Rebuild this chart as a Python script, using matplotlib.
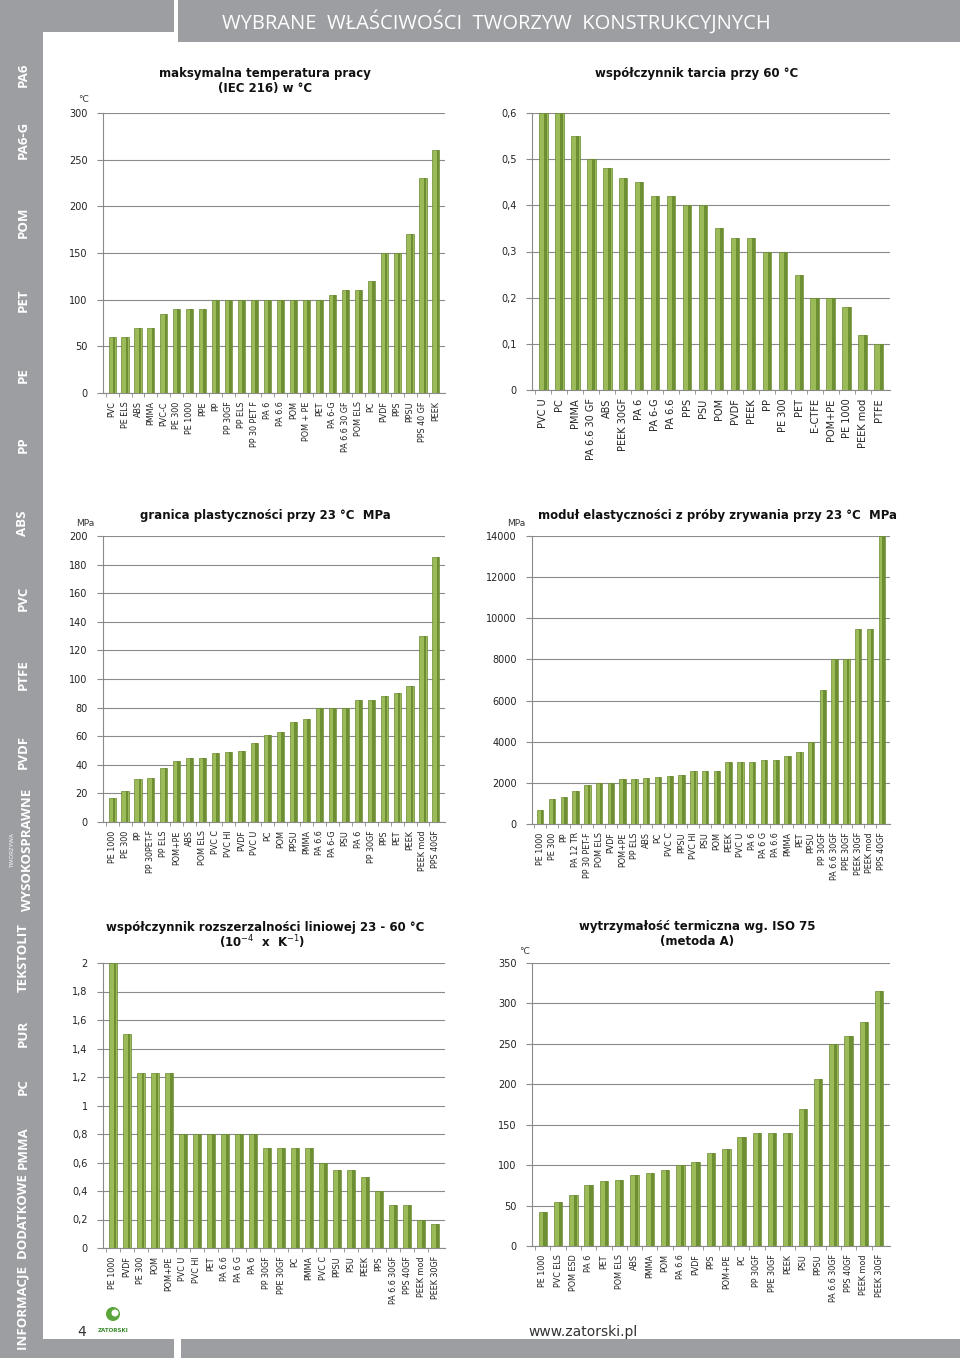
import matplotlib.pyplot as plt
import matplotlib.patches as patches

W, H = 960, 1358
GRAY = '#9d9ea2'
GREEN = '#9bbb59'
GREEN_DARK = '#6e8e34'
GRID = '#8a8a8a'
NARROW = ['Liberation Sans Narrow', 'DejaVu Sans']

# maksymalna temperatura pracy
temp_cats = ['PVC', 'PE ELS', 'ABS', 'PMMA', 'PVC-C', 'PE 300', 'PE 1000', 'PPE', 'PP',
             'PP 30GF', 'PP ELS', 'PP 30 PET F', 'PA 6', 'PA 6.6', 'POM', 'POM + PE', 'PET',
             'PA 6-G', 'PA 6.6 30 GF', 'POM ELS', 'PC', 'PVDF', 'PPS', 'PPSU', 'PPS 40 GF', 'PEEK']
temp_vals = [60, 60, 70, 70, 85, 90, 90, 90, 100, 100, 100, 100, 100, 100, 100, 100, 100,
             105, 110, 110, 120, 150, 150, 170, 230, 260]

# współczynnik tarcia
fric_cats = ['PVC U', 'PC', 'PMMA', 'PA 6.6 30 GF', 'ABS', 'PEEK 30GF', 'PA 6', 'PA 6-G',
             'PA 6.6', 'PPS', 'PSU', 'POM', 'PVDF', 'PEEK', 'PP', 'PE 300', 'PET', 'E-CTFE',
             'POM+PE', 'PE 1000', 'PEEK mod', 'PTFE']
fric_vals = [0.6, 0.6, 0.55, 0.5, 0.48, 0.46, 0.45, 0.42, 0.42, 0.4, 0.4, 0.35, 0.33, 0.33,
             0.3, 0.3, 0.25, 0.2, 0.2, 0.18, 0.12, 0.1]

# granica plastyczności
yield_cats = ['PE 1000', 'PE 300', 'PP', 'PP 30PET-F', 'PP ELS', 'POM+PE', 'ABS', 'POM ELS',
              'PVC C', 'PVC HI', 'PVDF', 'PVC U', 'PC', 'POM', 'PPSU', 'PMMA', 'PA 6.6', 'PA 6-G',
              'PSU', 'PA 6', 'PP 30GF', 'PPS', 'PET', 'PEEK', 'PEEK mod', 'PPS 40GF']
yield_vals = [17, 22, 30, 31, 38, 43, 45, 45, 48, 49, 50, 55, 61, 63, 70, 72, 80, 80, 80, 85,
              85, 88, 90, 95, 130, 185]

# moduł elastyczności
mod_cats = ['PE 1000', 'PE 300', 'PP', 'PA 12 TR', 'PP 30 PET-F', 'POM ELS', 'PVDF', 'POM+PE',
            'PP ELS', 'ABS', 'PC', 'PVC C', 'PPSU', 'PVC HI', 'PSU', 'POM', 'PEEK', 'PVC U',
            'PA 6', 'PA 6 G', 'PA 6.6', 'PMMA', 'PET', 'PPSU', 'PP 30GF', 'PA 6.6 30GF',
            'PPE 30GF', 'PEEK 30GF', 'PEEK mod', 'PPS 40GF']
mod_vals = [700, 1200, 1300, 1600, 1900, 2000, 2000, 2200, 2200, 2250, 2300, 2350, 2400, 2600,
            2600, 2600, 3000, 3000, 3000, 3100, 3100, 3300, 3500, 4000, 6500, 8000, 8000, 9500,
            9500, 14000]

# współczynnik rozszerzalności liniowej
exp_cats = ['PE 1000', 'PVDF', 'PE 300', 'POM', 'POM+PE', 'PVC U', 'PVC HI', 'PET', 'PA 6.6',
            'PA 6 G', 'PA 6', 'PP 30GF', 'PPE 30GF', 'PC', 'PMMA', 'PVC C', 'PPSU', 'PSU', 'PEEK',
            'PPS', 'PA 6.6 30GF', 'PPS 40GF', 'PEEK mod', 'PEEK 30GF']
exp_vals = [2.0, 1.5, 1.23, 1.23, 1.23, 0.8, 0.8, 0.8, 0.8, 0.8, 0.8, 0.7, 0.7, 0.7, 0.7, 0.6,
            0.55, 0.55, 0.5, 0.4, 0.3, 0.3, 0.2, 0.17]

# wytrzymałość termiczna ISO 75
hdt_cats = ['PE 1000', 'PVC ELS', 'POM ESD', 'PA 6', 'PET', 'POM ELS', 'ABS', 'PMMA', 'POM',
            'PA 6.6', 'PVDF', 'PPS', 'POM+PE', 'PC', 'PP 30GF', 'PPE 30GF', 'PEEK', 'PSU', 'PPSU',
            'PA 6.6 30GF', 'PPS 40GF', 'PEEK mod', 'PEEK 30GF']
hdt_vals = [42, 54, 63, 75, 80, 82, 88, 90, 94, 100, 104, 115, 120, 135, 140, 140, 140, 170,
            207, 250, 260, 277, 315]

sidebar = [('PA6', 75), ('PA6-G', 140), ('POM', 222), ('PET', 300), ('PE', 375), ('PP', 445),
           ('ABS', 523), ('PVC', 598), ('PTFE', 675), ('PVDF', 752), ('TEKSTOLIT', 958),
           ('PUR', 1033), ('PC', 1087), ('PMMA', 1148), ('INFORMACJE  DODATKOWE', 1262)]

fig = plt.figure(figsize=(9.6, 13.58), dpi=100)
fig.patch.set_facecolor('white')


def px_axes(x0, y0, x1, y1):
    return fig.add_axes([x0 / W, 1 - y1 / H, (x1 - x0) / W, (y1 - y0) / H])


def ftext(x, y, s, **kw):
    fig.text(x / W, 1 - y / H, s, **kw)


def fmt_num(v):
    s = ('%g' % v)
    return s.replace('.', ',')


def bar_chart(box, cats, vals, ymax, step, lab_size, lab_font, width=0.55):
    ax = px_axes(*box)
    xs = list(range(len(cats)))
    ax.bar(xs, vals, width=width, color=GREEN, edgecolor='#6b8a35', linewidth=0.5, zorder=3)
    # darker right side of each column for the 3D look
    ax.bar([x + width * 0.28 for x in xs], vals, width=width * 0.38, color=GREEN_DARK,
           linewidth=0, zorder=4)
    ticks = [i * step for i in range(int(round(ymax / step)) + 1)]
    ax.set_ylim(0, ymax)
    ax.set_yticks(ticks)
    ax.set_yticklabels([fmt_num(t) for t in ticks], fontsize=7, color='#222222')
    ax.set_xlim(-0.7, len(cats) - 0.3)
    ax.set_xticks(xs)
    ax.set_xticklabels(cats, rotation=90, fontsize=lab_size, family=lab_font, color='#222222')
    ax.set_xticks([x + 0.5 for x in xs[:-1]] + [-0.5], minor=True)
    ax.tick_params(axis='x', which='major', length=0, pad=6)
    ax.tick_params(axis='x', which='minor', length=3, color=GRID)
    ax.tick_params(axis='y', length=4, color=GRID, pad=7)
    ax.yaxis.grid(True, color=GRID, linewidth=0.8, zorder=0)
    for s in ['top', 'right']:
        ax.spines[s].set_visible(False)
    for s in ['left', 'bottom']:
        ax.spines[s].set_color(GRID)
        ax.spines[s].set_linewidth(0.8)
    return ax


bar_chart((103, 113, 445, 393), temp_cats, temp_vals, 300, 50, 5.8, NARROW)
bar_chart((532, 113, 890, 390), fric_cats, fric_vals, 0.6, 0.1, 7, 'DejaVu Sans')
bar_chart((103, 536, 445, 822), yield_cats, yield_vals, 200, 20, 5.8, NARROW)
bar_chart((532, 536, 890, 824), mod_cats, mod_vals, 14000, 2000, 5.8, NARROW)
bar_chart((103, 963, 445, 1248), exp_cats, exp_vals, 2, 0.2, 5.8, NARROW)
bar_chart((532, 963, 890, 1246), hdt_cats, hdt_vals, 350, 50, 5.8, NARROW)

# titles
tkw = dict(ha='center', va='center', fontsize=8.5, fontweight='bold', color='#111111')
ftext(265, 81, 'maksymalna temperatura pracy\n(IEC 216) w °C', **tkw)
ftext(697, 74, 'współczynnik tarcia przy 60 °C', **tkw)
ftext(265, 515, 'granica plastyczności przy 23 °C  MPa', **tkw)
ftext(718, 515, 'moduł elastyczności z próby zrywania przy 23 °C  MPa', **tkw)
ftext(265, 927, 'współczynnik rozszerzalności liniowej 23 - 60 °C', **tkw)
ftext(262, 942, '(10$^{-4}$  x  K$^{-1}$)', **tkw)
ftext(697, 934, 'wytrzymałość termiczna wg. ISO 75\n(metoda A)', **tkw)

ukw = dict(ha='left', va='center', fontsize=6.5, color='#333333')
ftext(78, 99, '°C', **ukw)
ftext(76, 523, 'MPa', **ukw)
ftext(507, 523, 'MPa', **ukw)
ftext(519, 952, '°C', **ukw)

# page frame
bg = fig.add_axes([0, 0, 1, 1], zorder=-5)
bg.set_xlim(0, W)
bg.set_ylim(H, 0)
bg.axis('off')
bg.add_patch(patches.Rectangle((0, 0), 43, 1339, color=GRAY, lw=0))
bg.add_patch(patches.Rectangle((0, 0), 174, 32, color=GRAY, lw=0))
bg.add_patch(patches.Rectangle((178, 0), W - 178, 42, color=GRAY, lw=0))
bg.add_patch(patches.Rectangle((0, 1339), 174, 19, color=GRAY, lw=0))
bg.add_patch(patches.Rectangle((181, 1339), W - 181, 19, color=GRAY, lw=0))
bg.add_patch(patches.Circle((113, 1314), 7, color='#5aa53c', lw=0))
bg.add_patch(patches.Circle((115, 1313), 3.5, color='white', lw=0))

ftext(222, 22, 'WYBRANE  WŁAŚCIWOŚCI  TWORZYW  KONSTRUKCYJNYCH', ha='left', va='center',
      fontsize=14.5, color='white', family='Open Sans')

for name, y in sidebar:
    ftext(23, y, name, rotation=90, ha='center', va='center', fontsize=9.5,
          fontweight='bold', color='white', family='Open Sans')
ftext(12, 850, 'TWORZYWA', rotation=90, ha='center', va='center', fontsize=4.5,
      color='white', family='Open Sans')
ftext(28, 850, 'WYSOKOSPRAWNE', rotation=90, ha='center', va='center', fontsize=9.5,
      fontweight='bold', color='white', family='Open Sans')

ftext(82, 1332, '4', ha='center', va='center', fontsize=10, color='#333333')
ftext(113, 1331, 'ZATORSKI', ha='center', va='center', fontsize=4, fontweight='bold',
      color='#3a8a2a')
ftext(528, 1332, 'www.zatorski.pl', ha='left', va='center', fontsize=10, color='#333333')

fig.savefig('out.png', dpi=100)
